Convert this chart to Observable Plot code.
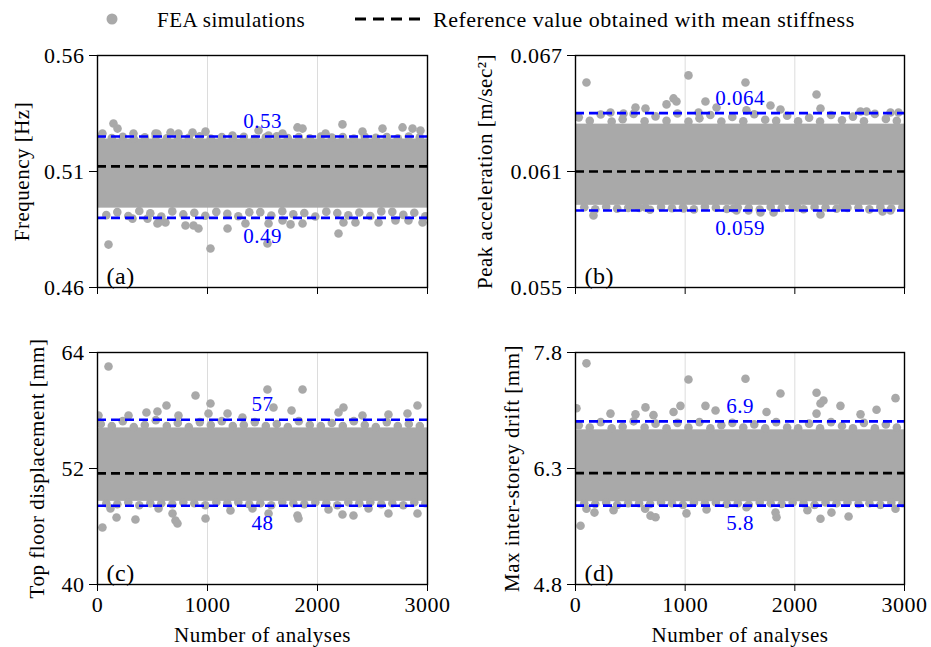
<!DOCTYPE html>
<html>
<head>
<meta charset="utf-8">
<script src="https://cdn.jsdelivr.net/npm/d3@7"></script>
<script src="https://cdn.jsdelivr.net/npm/@observablehq/plot@0.6"></script>
<style>
  html, body { margin: 0; padding: 0; background: #fff; }
  #fig { position: relative; width: 931px; height: 647px; font-family: "Liberation Serif", serif; }
  #fig > * { position: absolute; }
  #fig text { letter-spacing: 0.5px; }
</style>
</head>
<body>
<div id="fig"></div>
<script>
// ---------------- data ----------------
const runRange = [0, 3000];
const xTicks = [0, 1000, 2000, 3000];
const legendLabels = ["FEA simulations", "Reference value obtained with mean stiffness"];
// run numbers of the points along the upper / lower edge of the dense cloud
const edgeRunsUp = [30,130,230,330,430,530,630,730,830,930,1030,1130,1230,1330,1430,1530,1630,1730,1830,1930,2030,2130,2230,2330,2430,2530,2630,2730,2830,2930];
const edgeRunsLo = [80,180,280,380,480,580,680,780,880,980,1080,1180,1280,1380,1480,1580,1680,1780,1880,1980,2080,2180,2280,2380,2480,2580,2680,2780,2880,2980];

// (a) Frequency
const freqTicks = [0.46, 0.51, 0.56];
const freqBand = [0.4942, 0.5240];
const freqMean = 0.5122;
const freqLimits = [0.4900, 0.5251];
const freqLimitLabels = ["0.49", "0.53"];
const freqRuns = [45,145,182,327,527,545,664,736,864,982,1227,1464,1555,1682,1818,1864,2073,2227,2409,2591,2773,2864,2936,
  100,318,455,545,555,618,800,873,918,1027,1182,1345,1545,1555,1682,1755,1864,2191,2236,2345,2555,2709,2827,2955];
const freqValues = [0.5264,0.5307,0.5285,0.5264,0.5264,0.5262,0.5268,0.5264,0.5268,0.5272,0.5255,0.5277,0.5255,0.5264,0.5290,0.5285,0.5264,0.5303,0.5272,0.5285,0.5290,0.5285,0.5277,
  0.4785,0.4897,0.4897,0.4876,0.4880,0.4880,0.4867,0.4867,0.4854,0.4768,0.4854,0.4876,0.4790,0.4876,0.4889,0.4872,0.4876,0.4833,0.4880,0.4880,0.4880,0.4889,0.4889,0.4880];
const freqEdgeUp = [0.5248,0.5244,0.5250,0.5241,0.5247,0.5251,0.5243,0.5249,0.5245,0.5252,0.5242,0.5248,0.5246,0.5250,0.5241,0.5247,0.5252,0.5244,0.5249,0.5243,0.5251,0.5246,0.5248,0.5242,0.5250,0.5245,0.5249,0.5243,0.5251,0.5247];
const freqEdgeLo = [0.4912,0.4925,0.4908,0.4930,0.4920,0.4906,0.4928,0.4915,0.4922,0.4909,0.4926,0.4918,0.4907,0.4924,0.4925,0.4910,0.4929,0.4916,0.4921,0.4906,0.4927,0.4921,0.4911,0.4923,0.4908,0.4928,0.4926,0.4913,0.4922,0.4907];

// (b) Peak acceleration
const accTicks = [0.055, 0.061, 0.067];
const accBand = [0.05925, 0.06345];
const accMean = 0.0610;
const accLimits = [0.05898, 0.06402];
const accLimitLabels = ["0.059", "0.064"];
const accRuns = [100,1030,1550,2198,2234,894,921,830,1185,1286,547,638,319,1869,2599,2654,2872,2945,1559,438,1122,1778,
  164,2234,1687,1806,1468,529,638,985,1441,2024,2435,2872,2800,1578];
const accValues = [0.06560,0.06597,0.06560,0.06498,0.06426,0.06478,0.06462,0.06447,0.06462,0.06431,0.06431,0.06426,0.06405,0.06421,0.06410,0.06410,0.06405,0.06405,0.06416,0.06400,0.06405,0.06441,
  0.05873,0.05878,0.05888,0.05888,0.05898,0.05924,0.05914,0.05909,0.05909,0.05914,0.05919,0.05899,0.05893,0.05899];
const accEdgeUp = [0.06380,0.06362,0.06395,0.06358,0.06370,0.06398,0.06360,0.06385,0.06362,0.06400,0.06358,0.06375,0.06392,0.06358,0.06382,0.06360,0.06396,0.06368,0.06362,0.06388,0.06360,0.06378,0.06359,0.06392,0.06365,0.06384,0.06360,0.06398,0.06372,0.06362];
const accEdgeLo = [0.05915,0.05905,0.05918,0.05908,0.05912,0.05912,0.05902,0.05916,0.05910,0.05914,0.05904,0.05918,0.05913,0.05906,0.05914,0.05911,0.05903,0.05917,0.05911,0.05915,0.05905,0.05916,0.05914,0.05907,0.05912,0.05913,0.05904,0.05917,0.05909,0.05915];

// (c) Top floor displacement
const dispTicks = [40, 52, 64];
const dispBand = [48.6, 56.2];
const dispMean = 51.5;
const dispLimits = [48.15, 57.05];
const dispLimitLabels = ["48", "57"];
const dispRuns = [100,891,1545,1864,1027,627,1600,1764,545,445,2909,2236,2191,2409,2645,2818,1182,1318,1009,282,9,736,
  45,173,345,709,727,682,982,1555,1818,1827,2227,2327,2645,2909,118,555,1209,1409,2100,2464];
const dispValues = [62.55,59.55,60.17,60.17,58.72,58.52,58.31,58.00,57.90,57.79,58.52,58.31,57.79,57.48,57.59,57.69,57.69,57.28,57.69,57.48,57.48,57.48,
  45.90,46.93,46.72,46.62,46.31,47.34,46.83,47.34,47.14,46.83,47.24,47.14,47.34,47.34,47.86,47.86,47.66,47.86,47.76,47.86];
const dispEdgeUp = [56.6,56.4,56.9,56.3,56.5,57.0,56.4,56.7,56.3,56.8,56.5,56.9,56.4,56.5,56.8,56.4,56.6,56.3,56.9,56.5,56.4,56.7,56.4,56.9,56.5,56.3,56.8,56.4,56.6,56.4];
const dispEdgeLo = [48.4,48.3,48.5,48.2,48.4,48.4,48.3,48.5,48.4,48.2,48.5,48.4,48.5,48.3,48.4,48.2,48.5,48.4,48.3,48.5,48.4,48.2,48.5,48.4,48.5,48.3,48.4,48.2,48.5,48.4];

// (d) Max inter-storey drift
const driftTicks = [4.8, 6.3, 7.8];
const driftBand = [5.87, 6.80];
const driftMean = 6.24;
const driftLimits = [5.82, 6.91];
const driftLimitLabels = ["5.8", "6.9"];
const driftRuns = [100,1030,1550,1869,2198,2234,2261,2918,9,638,957,1185,1277,2416,2198,2599,2745,319,547,894,1742,711,
  46,173,347,684,730,1012,1559,1833,1824,2234,2334,2490,2918,100,635,1195,2115];
const driftValues = [7.66,7.45,7.46,7.27,7.28,7.14,7.18,7.21,7.08,7.09,7.11,7.11,7.05,7.11,7.01,7.00,7.06,7.01,7.00,7.03,7.03,6.99,
  5.56,5.73,5.76,5.69,5.67,5.72,5.80,5.67,5.73,5.65,5.73,5.68,5.78,5.78,5.78,5.77,5.76];
const driftEdgeUp = [6.86,6.83,6.90,6.82,6.84,6.91,6.83,6.88,6.82,6.89,6.83,6.90,6.82,6.86,6.89,6.83,6.87,6.82,6.90,6.83,6.82,6.88,6.82,6.90,6.85,6.82,6.89,6.82,6.87,6.83];
const driftEdgeLo = [5.85,5.84,5.86,5.83,5.85,5.85,5.84,5.86,5.85,5.83,5.86,5.85,5.86,5.84,5.85,5.83,5.86,5.85,5.84,5.86,5.85,5.83,5.86,5.85,5.86,5.84,5.85,5.83,5.86,5.85];

// ---------------- drawing ----------------
const GRAY = "#a9a9a9";
const BLUE = "#0000ff";
const FONT = "Liberation Serif";

function panel(o) {
  const pts = o.runs.map((n, i) => ({n, v: o.values[i]}))
    .concat(edgeRunsUp.map((n, i) => ({n, v: o.edgeUp[i]})))
    .concat(edgeRunsLo.map((n, i) => ({n, v: o.edgeLo[i]})));
  const band = [{x1: runRange[0], x2: runRange[1], y1: o.band[0], y2: o.band[1]}];
  const marks = [
    Plot.ruleX([1000, 2000], {stroke: "#dcdcdc", strokeWidth: 1}),
    Plot.rect(band, {x1: "x1", x2: "x2", y1: "y1", y2: "y2", fill: GRAY}),
    Plot.dot(pts, {x: "n", y: "v", r: 4.3, fill: GRAY, clip: true}),
    Plot.ruleY([o.mean], {stroke: "black", strokeWidth: 2.6, strokeDasharray: "9,5"}),
    Plot.ruleY(o.limits, {stroke: BLUE, strokeWidth: 2.6, strokeDasharray: "9,5"}),
    Plot.text([o.limitLabels[0]], {x: 1500, y: o.limits[0], dy: 18, fill: BLUE, fontSize: 21, fontFamily: FONT}),
    Plot.text([o.limitLabels[1]], {x: 1500, y: o.limits[1], dy: -15, fill: BLUE, fontSize: 21, fontFamily: FONT}),
    Plot.text([o.letter], {frameAnchor: "bottom-left", dx: 9, dy: -4, textAnchor: "start", lineAnchor: "bottom", fontSize: 24, fontFamily: FONT}),
    Plot.text([o.ylabel], {frameAnchor: "left", textAnchor: "middle", lineAnchor: "middle", rotate: -90, dx: -o.ylabelOffset, fontSize: 21, fontFamily: FONT}),
    Plot.frame({stroke: "black", strokeWidth: 1.4}),
    Plot.axisY({ticks: o.ticks, tickSize: 8, tickPadding: 5, fontSize: 22, fontFamily: FONT, label: null,
      tickFormat: d => o.tickFormat(d)}),
    Plot.axisX({ticks: xTicks, tickSize: 7, tickPadding: 5, fontSize: 22, fontFamily: FONT, label: null,
      tickFormat: o.bottom ? (d => String(d)) : (() => "")})
  ];
  if (o.bottom) marks.push(Plot.text(["Number of analyses"], {frameAnchor: "bottom", lineAnchor: "middle", dy: 51, fontSize: 21, fontFamily: FONT}));
  const svg = Plot.plot({
    width: o.width, height: o.height,
    marginLeft: o.ml, marginRight: o.mr, marginTop: o.mt, marginBottom: o.mb,
    style: {fontFamily: FONT, fontSize: "21px", color: "black", background: "transparent", overflow: "visible"},
    x: {domain: runRange},
    y: {domain: [o.ticks[0], o.ticks[2]]},
    marks
  });
  svg.style.left = o.left + "px";
  svg.style.top = o.top + "px";
  return svg;
}

const fig = document.getElementById("fig");
const fmt = d3.format(".2f"), fmt3 = d3.format(".3f"), fmt1 = d3.format(".1f");

fig.append(panel({left: 0, top: 40, width: 440, height: 300, ml: 97, mr: 13, mt: 15, mb: 53,
  ticks: freqTicks, tickFormat: fmt, band: freqBand, mean: freqMean, limits: freqLimits, limitLabels: freqLimitLabels,
  runs: freqRuns, values: freqValues, edgeUp: freqEdgeUp, edgeLo: freqEdgeLo,
  letter: "(a)", ylabel: "Frequency [Hz]", ylabelOffset: 75, bottom: false}));

fig.append(panel({left: 470, top: 40, width: 461, height: 300, ml: 105, mr: 27, mt: 15, mb: 53,
  ticks: accTicks, tickFormat: fmt3, band: accBand, mean: accMean, limits: accLimits, limitLabels: accLimitLabels,
  runs: accRuns, values: accValues, edgeUp: accEdgeUp, edgeLo: accEdgeLo,
  letter: "(b)", ylabel: "Peak acceleration [m/sec²]", ylabelOffset: 90, bottom: false}));

fig.append(panel({left: 0, top: 330, width: 440, height: 317, ml: 97, mr: 13, mt: 22, mb: 63,
  ticks: dispTicks, tickFormat: d => String(d), band: dispBand, mean: dispMean, limits: dispLimits, limitLabels: dispLimitLabels,
  runs: dispRuns, values: dispValues, edgeUp: dispEdgeUp, edgeLo: dispEdgeLo,
  letter: "(c)", ylabel: "Top floor displacement [mm]", ylabelOffset: 60, bottom: true}));

fig.append(panel({left: 470, top: 330, width: 461, height: 317, ml: 105, mr: 27, mt: 22, mb: 63,
  ticks: driftTicks, tickFormat: fmt1, band: driftBand, mean: driftMean, limits: driftLimits, limitLabels: driftLimitLabels,
  runs: driftRuns, values: driftValues, edgeUp: driftEdgeUp, edgeLo: driftEdgeLo,
  letter: "(d)", ylabel: "Max inter-storey drift [mm]", ylabelOffset: 63, bottom: true}));

// legend
const ns = "http://www.w3.org/2000/svg";
const leg = document.createElementNS(ns, "svg");
leg.setAttribute("width", 931); leg.setAttribute("height", 40);
leg.style.left = "0px"; leg.style.top = "0px";
leg.innerHTML = `
  <circle cx="112" cy="19" r="5.5" fill="${GRAY}"></circle>
  <text x="157" y="27" font-family="${FONT}" font-size="21">${legendLabels[0]}</text>
  <line x1="355" x2="421" y1="19" y2="19" stroke="black" stroke-width="2.8" stroke-dasharray="11,7"></line>
  <text x="433" y="27" font-family="${FONT}" font-size="22">${legendLabels[1]}</text>`;
fig.append(leg);
</script>
</body>
</html>
